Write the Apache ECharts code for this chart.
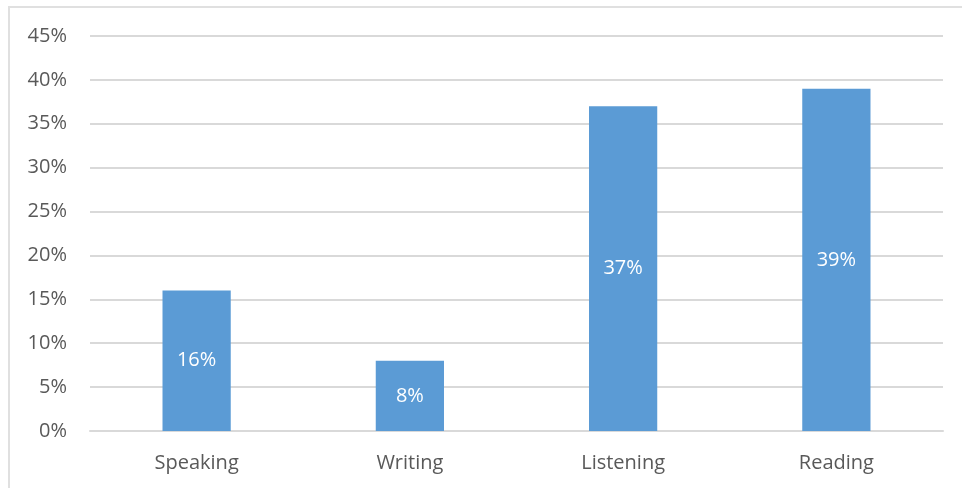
<!DOCTYPE html>
<html><head><meta charset="utf-8">
<script src="https://cdn.jsdelivr.net/npm/echarts@6/dist/echarts.min.js"></script>
<style>html,body{margin:0;padding:0;background:#fff}#c{width:962px;height:488px}
#frame{position:absolute;left:8px;top:6px;width:960px;height:490px;border:2px solid #e0e0e0;box-sizing:border-box;pointer-events:none}</style>
</head><body><div id="c"></div><div id="frame"></div>
<script>
const categories = ["Speaking", "Writing", "Listening", "Reading"];
const values = [16, 8, 37, 39];
const yTicks = [0, 5, 10, 15, 20, 25, 30, 35, 40, 45];

const chart = echarts.init(document.getElementById('c'), null, {renderer: 'canvas'});
chart.setOption({
  animation: false,
  grid: {left: 90, right: 19, top: 36, bottom: 57, containLabel: false},
  xAxis: {
    type: 'category', data: categories,
    axisLine: {show: true, lineStyle: {color: '#d9d9d9', width: 2}},
    axisTick: {show: false},
    axisLabel: {color: '#595959', fontSize: 20, fontFamily: 'Open Sans', margin: 22}
  },
  yAxis: {
    type: 'value', min: yTicks[0], max: yTicks[yTicks.length - 1], interval: 5,
    axisLine: {show: false}, axisTick: {show: false},
    splitLine: {lineStyle: {color: '#d9d9d9', width: 2}},
    axisLabel: {color: '#595959', fontSize: 20, fontFamily: 'Open Sans', margin: 23,
      formatter: v => v + '%'}
  },
  series: [{
    type: 'bar', data: values, barWidth: '32%',
    itemStyle: {color: '#5b9bd5'},
    label: {show: true, position: 'inside', color: '#fff', fontSize: 20, fontFamily: 'Open Sans',
      formatter: p => p.value + '%'}
  }]
});
</script></body></html>
